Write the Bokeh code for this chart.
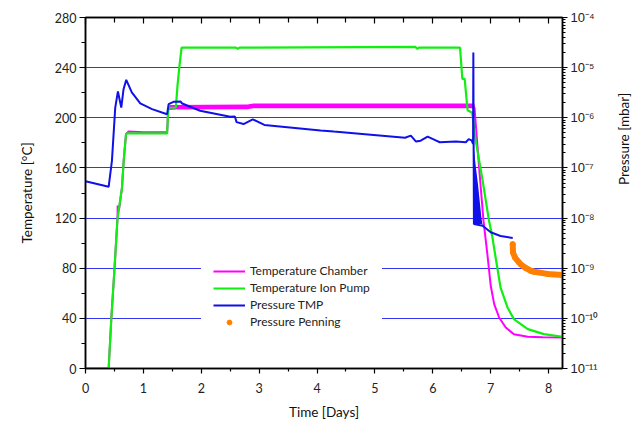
import math
from bokeh.plotting import figure
from bokeh.layouts import row
from bokeh.models import (Range1d, LinearAxis, LogAxis, LogScale, FixedTicker, LogTicker,
                          Legend, LegendItem, CustomJSTickFormatter, Label)
from bokeh.embed import file_html
from bokeh.resources import INLINE

# ---------------- data ----------------
x_ticks = [0, 1, 2, 3, 4, 5, 6, 7, 8]
x_minor = [0.5, 1.5, 2.5, 3.5, 4.5, 5.5, 6.5, 7.5]
temp_ticks = [0, 40, 80, 120, 160, 200, 240, 280]
temp_minor = [20, 60, 100, 140, 180, 220, 260]
grid_ticks = [40, 80, 120, 160, 200, 240]

chamber_day = [0.00, 0.40, 0.445, 0.50, 0.553, 0.556, 0.565, 0.58, 0.63, 0.66, 0.70, 0.74,
               1.00, 1.41, 1.43, 1.60, 2.80, 2.90, 6.70, 6.72, 6.80, 6.875, 6.92, 6.945,
               7.00, 7.06, 7.145, 7.26, 7.40, 7.64, 7.90, 8.24]
chamber_temp = [0, 0, 39, 79, 120, 130, 125, 127, 144, 166, 187, 189,
                188.5, 188.5, 207, 208, 208.5, 209.5, 209.5, 208, 160, 118, 100, 90,
                66, 51.4, 40.7, 32.7, 27.4, 25.3, 24.9, 24.7]
# noise envelope of the chamber temperature plateau
chamber_band_day = [1.45, 2.80, 2.90, 6.72]
chamber_band_lo = [206.6, 206.8, 207.6, 207.6]
chamber_band_hi = [210.2, 210.6, 211.3, 211.3]

ionpump_day = [0.00, 0.40, 0.445, 0.50, 0.553, 0.571, 0.63, 0.66, 0.70, 0.72, 1.41, 1.43,
               1.56, 1.59, 1.62, 1.66, 2.60, 2.63, 2.66, 5.70, 5.73, 5.76, 6.47, 6.51,
               6.55, 6.60, 6.68, 6.74, 6.86, 6.97, 7.03, 7.09, 7.17, 7.29, 7.40, 7.64,
               7.92, 8.24]
ionpump_temp = [0, 0, 39, 79, 120, 125.6, 144, 165.7, 187, 187.5, 187.5, 208,
                208, 226, 240, 256, 256, 255, 256, 256.5, 255, 256, 256, 231,
                231, 206, 204, 182, 150, 118, 104.5, 87, 64.6, 48.7, 39.4, 31.4,
                27.4, 25.3]

tmp_day = [0.00, 0.40, 0.457, 0.514, 0.56, 0.618, 0.657, 0.704, 0.80, 0.946, 1.15, 1.41,
           1.436, 1.52, 1.64, 1.67, 1.98, 2.50, 2.58, 2.61, 2.73, 2.89, 3.09, 4.06,
           4.29, 5.52, 5.62, 5.71, 5.79, 5.91, 6.05, 6.12, 6.40, 6.57, 6.62, 6.67,
           6.695, 6.70, 6.705, 6.71, 6.86, 7.00, 7.17, 7.38]
tmp_mbar = [5.4e-8, 4.2e-8, 1.4e-7, 1.6e-6, 3.35e-6, 1.6e-6, 3.7e-6, 5.7e-6, 3.2e-6, 1.93e-6, 1.49e-6, 1.18e-6,
            1.87e-6, 2.08e-6, 2.11e-6, 1.93e-6, 1.38e-6, 1.05e-6, 1.06e-6, 8.2e-7, 7.5e-7, 9.3e-7, 7.2e-7, 5.6e-7,
            5.3e-7, 4.0e-7, 4.4e-7, 3.35e-7, 3.5e-7, 4.2e-7, 3.55e-7, 3.25e-7, 3.35e-7, 3.25e-7, 3.75e-7, 3.55e-7,
            3.0e-7, 2.0e-5, 2.4e-7, 7.6e-9, 7.0e-9, 5.2e-9, 4.4e-9, 4.0e-9]
# envelope of the dense oscillation of the TMP pressure after venting
tmp_band_day = [6.700, 6.745, 6.780, 6.815, 6.840, 6.860]
tmp_band_lo = [7.6e-9, 7.6e-9, 7.6e-9, 7.6e-9, 7.6e-9, 7.0e-9]
tmp_band_hi = [3.0e-7, 1.0e-7, 4.7e-8, 1.9e-8, 1.0e-8, 7.0e-9]

penning_day = [7.38, 7.385, 7.42, 7.49, 7.52, 7.61, 7.69, 7.75, 7.98, 8.24]
penning_mbar = [3.0e-9, 2.05e-9, 1.63e-9, 1.30e-9, 1.19e-9, 1.0e-9, 8.9e-10, 8.5e-10, 7.7e-10, 7.3e-10]

x_start, x_end = 0, 8.24
t_start, t_end = 0, 280
p_start, p_end = 1e-11, 1e-4

# ---------------- figure ----------------
FONT = "Lato"
W_MAIN, W_SIDE, H = 602, 34, 422
p = figure(width=W_MAIN, height=H, x_range=Range1d(x_start, x_end), y_range=Range1d(t_start, t_end),
           output_backend="svg", toolbar_location=None,
           min_border_left=85, min_border_right=40, min_border_top=17, min_border_bottom=54)
p.extra_y_ranges = {"p": Range1d(p_start, p_end)}
p.extra_y_scales = {"p": LogScale()}

p.outline_line_color = "black"
p.outline_line_width = 1.5
p.background_fill_color = "white"
p.border_fill_color = "white"

p.xgrid.visible = False
p.ygrid.ticker = FixedTicker(ticks=grid_ticks)
p.ygrid.grid_line_color = "#3333f2"
p.ygrid.grid_line_width = 1

def style_axis(ax, label_font=FONT):
    ax.axis_line_color = "black"
    ax.axis_line_width = 1.5
    ax.major_tick_line_color = "black"
    ax.minor_tick_line_color = "black"
    ax.major_tick_line_width = 1.2
    ax.minor_tick_line_width = 1.2
    ax.major_label_text_font = label_font
    ax.major_label_text_font_size = "12.5px"
    ax.major_label_text_color = "#222222"
    ax.axis_label_text_font = FONT
    ax.axis_label_text_font_size = "13.5px"
    ax.axis_label_text_font_style = "normal"
    ax.axis_label_text_color = "#111111"

xa = p.xaxis[0]
xa.ticker = FixedTicker(ticks=x_ticks, minor_ticks=x_minor)
xa.axis_label = "Time [Days]"
style_axis(xa)
xa.major_tick_out = 5; xa.major_tick_in = 0
xa.minor_tick_out = 3; xa.minor_tick_in = 0
xa.major_label_standoff = 9
xa.axis_label_standoff = 8

ya = p.yaxis[0]
ya.ticker = FixedTicker(ticks=temp_ticks, minor_ticks=temp_minor)
ya.axis_label = "Temperature [°C]"
style_axis(ya)
ya.major_tick_out = 6; ya.major_tick_in = 0
ya.minor_tick_out = 4; ya.minor_tick_in = 0
ya.major_label_standoff = 3
ya.axis_label_standoff = 17

top = LinearAxis(ticker=FixedTicker(ticks=x_ticks, minor_ticks=x_minor),
                 formatter=CustomJSTickFormatter(code="return '';"))
style_axis(top)
top.major_tick_out = 0; top.major_tick_in = 6
top.minor_tick_out = 0; top.minor_tick_in = 5
top.major_label_standoff = 0
p.add_layout(top, "above")

sup_formatter = CustomJSTickFormatter(code="""
const e = Math.round(Math.log10(tick));
const sup = {'-': '\u207b', '0': '\u2070', '1': '\u00b9', '2': '\u00b2', '3': '\u00b3',
             '4': '\u2074', '5': '\u2075', '6': '\u2076', '7': '\u2077', '8': '\u2078', '9': '\u2079'};
return '10' + String(e).split('').map(c => sup[c]).join('');
""")
ra = LogAxis(y_range_name="p", ticker=LogTicker(desired_num_ticks=10, num_minor_ticks=10),
             formatter=sup_formatter)
style_axis(ra, label_font="Liberation Sans")
ra.major_label_text_font_size = "13px"
ra.major_tick_out = 5; ra.major_tick_in = 0
ra.minor_tick_out = 3; ra.minor_tick_in = 0
ra.major_label_standoff = 3
p.add_layout(ra, "right")

# ---------------- glyphs ----------------
MAG = "#ff00ff"; GRN = "#11ee11"; BLU = "#1010e8"; ORG = "#ff8000"

p.varea(x=chamber_band_day, y1=chamber_band_lo, y2=chamber_band_hi, fill_color=MAG, fill_alpha=1)
r_ch = p.line(chamber_day, chamber_temp, line_color=MAG, line_width=2)
r_ip = p.line(ionpump_day, ionpump_temp, line_color=GRN, line_width=2.2)
p.varea(x=tmp_band_day, y1=tmp_band_lo, y2=tmp_band_hi, fill_color=BLU, y_range_name="p")
r_tmp = p.line(tmp_day, tmp_mbar, line_color=BLU, line_width=2, y_range_name="p")
p.line(penning_day, penning_mbar, line_color=ORG, line_width=6, line_cap="round", y_range_name="p")
r_pen = p.scatter(penning_day, penning_mbar, color=ORG, size=5, y_range_name="p")

legend = Legend(items=[
    LegendItem(label="Temperature Chamber", renderers=[r_ch]),
    LegendItem(label="Temperature Ion Pump", renderers=[r_ip]),
    LegendItem(label="Pressure TMP", renderers=[r_tmp]),
    LegendItem(label="Pressure Penning", renderers=[r_pen]),
], location=(116, 27))
legend.label_text_font = FONT
legend.label_text_font_size = "12px"
legend.label_text_color = "#222222"
legend.glyph_width = 32
legend.glyph_height = 12
legend.label_height = 12
legend.spacing = 2
legend.padding = 12
legend.margin = 0
legend.label_standoff = 5
legend.border_line_alpha = 0
legend.background_fill_color = "white"
legend.background_fill_alpha = 1
p.add_layout(legend, "center")

# ---------------- right axis title (reads bottom-to-top, like the left one) ----------------
side = figure(width=W_SIDE, height=H, x_range=Range1d(0, 1), y_range=Range1d(0, 1),
              x_axis_type=None, y_axis_type=None, output_backend="svg", toolbar_location=None,
              min_border=0, outline_line_color=None)
side.grid.visible = False
side.background_fill_color = "white"
side.border_fill_color = "white"
side.add_layout(Label(x=21, y=H - 192.5, x_units="screen", y_units="screen",
                      text="Pressure [mbar]", angle=90, angle_units="deg",
                      text_align="center", text_baseline="middle",
                      text_font=FONT, text_font_size="13.5px", text_color="#111111"))

layout = row(p, side, spacing=0)
open("out.html", "w").write(file_html(layout, INLINE))
